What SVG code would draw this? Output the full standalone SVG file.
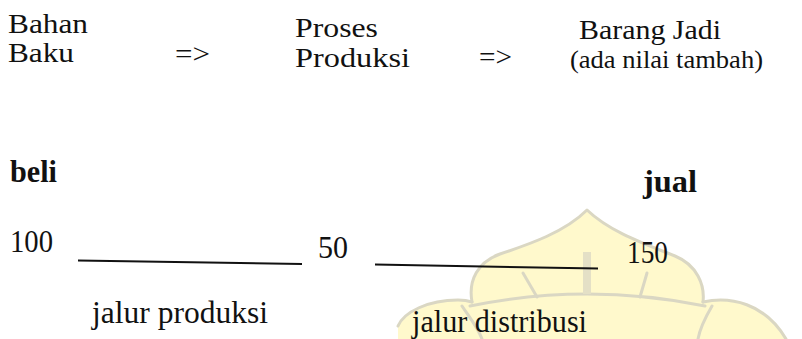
<svg xmlns="http://www.w3.org/2000/svg" width="802" height="339" viewBox="0 0 802 339">
  <style>
    .t { font-family: "Liberation Serif", "Times New Roman", serif; fill: #111; }
    .top { font-size: 27px; }
    .sm { font-size: 25px; }
    .bot { font-size: 31px; }
    .b { font-weight: bold; }
    .wm { fill: none; stroke: #DAD7C3; stroke-width: 3; stroke-linecap: round; stroke-linejoin: round; }
    .conn { stroke: #111; stroke-width: 2; fill: none; }
  </style>
  <rect width="802" height="339" fill="#ffffff"/>
  <g id="watermark">
    <path d="M 398,339 L 398,326 C 404,312 428,300 458,300 L 472,302 C 468,280 478,262 500,254 C 530,244 565,232 587,210 C 610,232 645,244 675,256 C 697,265 705,285 703,302 C 730,296 765,303 786,339 Z" fill="#FFF9CC" stroke="none"/>
    <path class="wm" d="M 398,326 C 404,312 428,300 458,300 C 464,300 469,301 472,302"/>
    <path class="wm" d="M 472,302 C 468,280 478,262 500,254 C 530,244 565,232 587,210 C 610,232 645,244 675,256 C 697,265 705,285 703,302"/>
    <path class="wm" d="M 703,302 C 730,296 765,303 786,339"/>
    <path class="wm" d="M 470,306 Q 587,282 705,306"/>
    <path class="wm" d="M 523,273 L 537,297"/>
    <path class="wm" d="M 647,273 L 640,297"/>
    <path class="wm" d="M 462,306 C 470,318 478,328 482,339"/>
    <path class="wm" d="M 712,306 C 705,318 700,328 698,339"/>
    <line x1="587" y1="252" x2="587" y2="294" stroke="#E4E0C6" stroke-width="8"/>
  </g>
  <g id="connectors">
    <line class="conn" x1="78" y1="260.5" x2="302" y2="264"/>
    <line class="conn" x1="375" y1="264.5" x2="598" y2="268.5"/>
  </g>
  <g id="bahan-baku">
    <text class="t top" x="8" y="33" textLength="80" lengthAdjust="spacingAndGlyphs">Bahan</text>
    <text class="t top" x="8" y="62" textLength="66" lengthAdjust="spacingAndGlyphs">Baku</text>
  </g>
  <g id="arrow-1">
    <text class="t top" x="175" y="63" textLength="35" lengthAdjust="spacingAndGlyphs">=&gt;</text>
  </g>
  <g id="proses-produksi">
    <text class="t top" x="295" y="37" textLength="83" lengthAdjust="spacingAndGlyphs">Proses</text>
    <text class="t top" x="295" y="67" textLength="115" lengthAdjust="spacingAndGlyphs">Produksi</text>
  </g>
  <g id="arrow-2">
    <text class="t top" x="479" y="66" textLength="33" lengthAdjust="spacingAndGlyphs">=&gt;</text>
  </g>
  <g id="barang-jadi">
    <text class="t top" x="579" y="39" textLength="142" lengthAdjust="spacingAndGlyphs">Barang Jadi</text>
    <text class="t sm" x="570" y="68" textLength="193" lengthAdjust="spacingAndGlyphs">(ada nilai tambah)</text>
  </g>
  <g id="beli">
    <text class="t bot b" x="10" y="182" textLength="47" lengthAdjust="spacingAndGlyphs">beli</text>
  </g>
  <g id="jual">
    <text class="t bot b" x="643" y="192" textLength="54" lengthAdjust="spacingAndGlyphs">jual</text>
  </g>
  <g id="v100">
    <text class="t bot" x="10" y="252" textLength="43" lengthAdjust="spacingAndGlyphs">100</text>
  </g>
  <g id="v50">
    <text class="t bot" x="318" y="258" textLength="30" lengthAdjust="spacingAndGlyphs">50</text>
  </g>
  <g id="v150">
    <text class="t bot" x="627" y="263" textLength="41" lengthAdjust="spacingAndGlyphs">150</text>
  </g>
  <g id="jalur-produksi">
    <text class="t bot" x="92" y="323" textLength="176" lengthAdjust="spacingAndGlyphs">jalur produksi</text>
  </g>
  <g id="jalur-distribusi">
    <text class="t bot" x="412" y="332" textLength="175" lengthAdjust="spacingAndGlyphs">jalur distribusi</text>
  </g>
</svg>
